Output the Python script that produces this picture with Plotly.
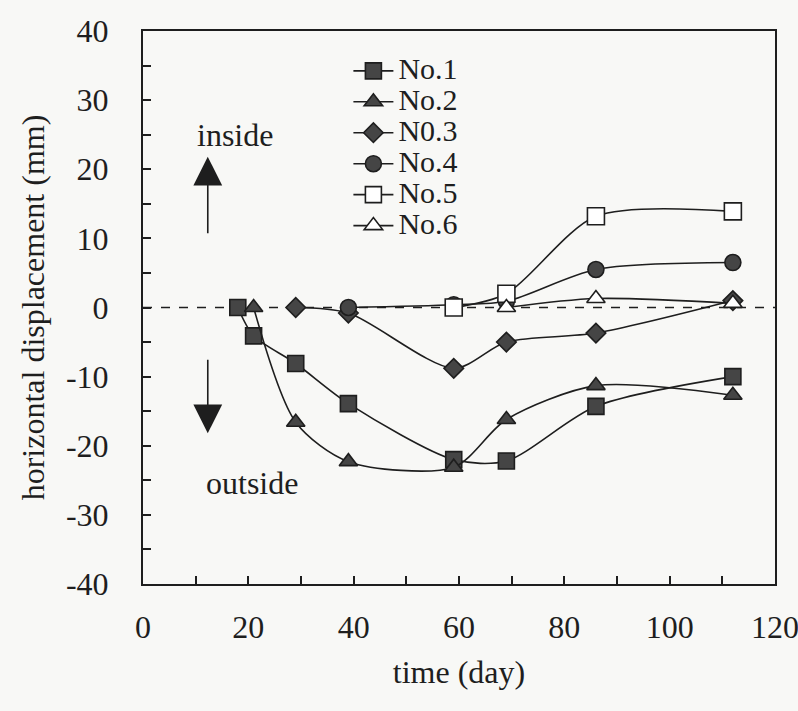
import plotly.graph_objects as go

# ---------------- data ----------------
names = ["No.1", "No.2", "N0.3", "No.4", "No.5", "No.6"]
x1 = [18, 21, 29, 39, 59, 69, 86, 112]
y1 = [0, -4.1, -8.1, -13.9, -22.0, -22.2, -14.3, -10.0]
x2 = [21, 29, 39, 59, 69, 86, 112]
y2 = [0, -16.6, -22.3, -23.1, -16.2, -11.3, -12.7]
x3 = [29, 39, 59, 69, 86, 112]
y3 = [0, -0.8, -8.8, -5.0, -3.7, 1.0]
x4 = [39, 59, 69, 86, 112]
y4 = [0, 0.4, 0.9, 5.5, 6.5]
x5 = [59, 69, 86, 112]
y5 = [0, 2.0, 13.2, 13.9]
x6 = [69, 86, 112]
y6 = [0, 1.3, 0.6]

x_tickvals = [0, 20, 40, 60, 80, 100, 120]
x_ticktext = ["0", "20", "40", "60", "80", "100", "120"]
y_tickvals = [-40, -30, -20, -10, 0, 10, 20, 30, 40]
y_ticktext = ["-40", "-30", "-20", "-10", "0", "10", "20", "30", "40"]

xs = [x1, x2, x3, x4, x5, x6]
ys = [y1, y2, y3, y4, y5, y6]
symbols = ["square", "triangle-up", "diamond", "circle", "square", "triangle-up"]
filled = [True, True, True, True, False, False]
sizes = [16, 16, 15, 16, 17, 16]

FONT = "Liberation Serif"
INK = "#1e1e1e"
BG = "#f8f8f6"
TXT = 32
LEG = 30

fig = go.Figure()
for n, x, y, s, f, sz in zip(names, xs, ys, symbols, filled, sizes):
    fig.add_trace(go.Scatter(
        x=x, y=y, mode="lines+markers",
        name='<span style="font-size:%dpx">%s</span>' % (LEG, n),
        line=dict(color=INK, width=1.6, shape="spline", smoothing=0.8),
        marker=dict(symbol=s, size=sz,
                    color="#454545" if f else "white",
                    line=dict(color=INK, width=1.6)),
    ))

# zero reference line
fig.add_shape(type="line", xref="paper", yref="y", x0=0, x1=1, y0=0, y1=0,
              line=dict(color=INK, width=1.6, dash="dash"), layer="below")

# direction annotations
fig.add_annotation(x=17.5, y=25.0, text="inside", showarrow=False,
                   font=dict(family=FONT, size=TXT, color=INK))
fig.add_annotation(x=12.3, y=21.8, ax=0, ay=78, showarrow=True,
                   arrowhead=2, arrowsize=3.6, arrowwidth=1.6, arrowcolor=INK,
                   text="")
fig.add_annotation(x=12.3, y=-18.2, ax=0, ay=-75, showarrow=True,
                   arrowhead=2, arrowsize=3.6, arrowwidth=1.6, arrowcolor=INK,
                   text="")
fig.add_annotation(x=20.7, y=-25.4, text="outside", showarrow=False,
                   font=dict(family=FONT, size=TXT, color=INK))

axis_common = dict(
    showline=True, linecolor=INK, linewidth=2, mirror=True,
    ticks="inside", ticklen=8, tickwidth=1.6, tickcolor=INK,
    showgrid=False, zeroline=False, tickmode="array",
    tickfont=dict(family=FONT, size=TXT, color=INK),
    ticklabeloverflow="allow", automargin=False,
)

fig.update_xaxes(range=[0, 120], tickvals=x_tickvals, ticktext=x_ticktext,
                 ticklabelstandoff=14,
                 minor=dict(dtick=10, ticks="inside", ticklen=8, tickwidth=1.6, tickcolor=INK),
                 title=dict(text="time (day)", font=dict(family=FONT, size=TXT, color=INK), standoff=16),
                 **axis_common)
fig.update_yaxes(range=[-40, 40], tickvals=y_tickvals, ticktext=y_ticktext,
                 ticklabelstandoff=26,
                 minor=dict(dtick=5, ticks="inside", ticklen=8, tickwidth=1.6, tickcolor=INK),
                 title=dict(text="horizontal displacement (mm)", font=dict(family=FONT, size=TXT, color=INK), standoff=12),
                 **axis_common)

fig.update_layout(
    width=798, height=711,
    margin=dict(l=143, r=23, t=31, b=127),
    paper_bgcolor=BG, plot_bgcolor=BG,
    font=dict(family=FONT, color=INK),
    legend=dict(x=0.325, y=0.965, xanchor="left", yanchor="top",
                bgcolor="rgba(0,0,0,0)", font=dict(family=FONT, size=21.5, color=INK),
                itemwidth=40, tracegroupgap=0),
)

fig.write_html("out.html")
